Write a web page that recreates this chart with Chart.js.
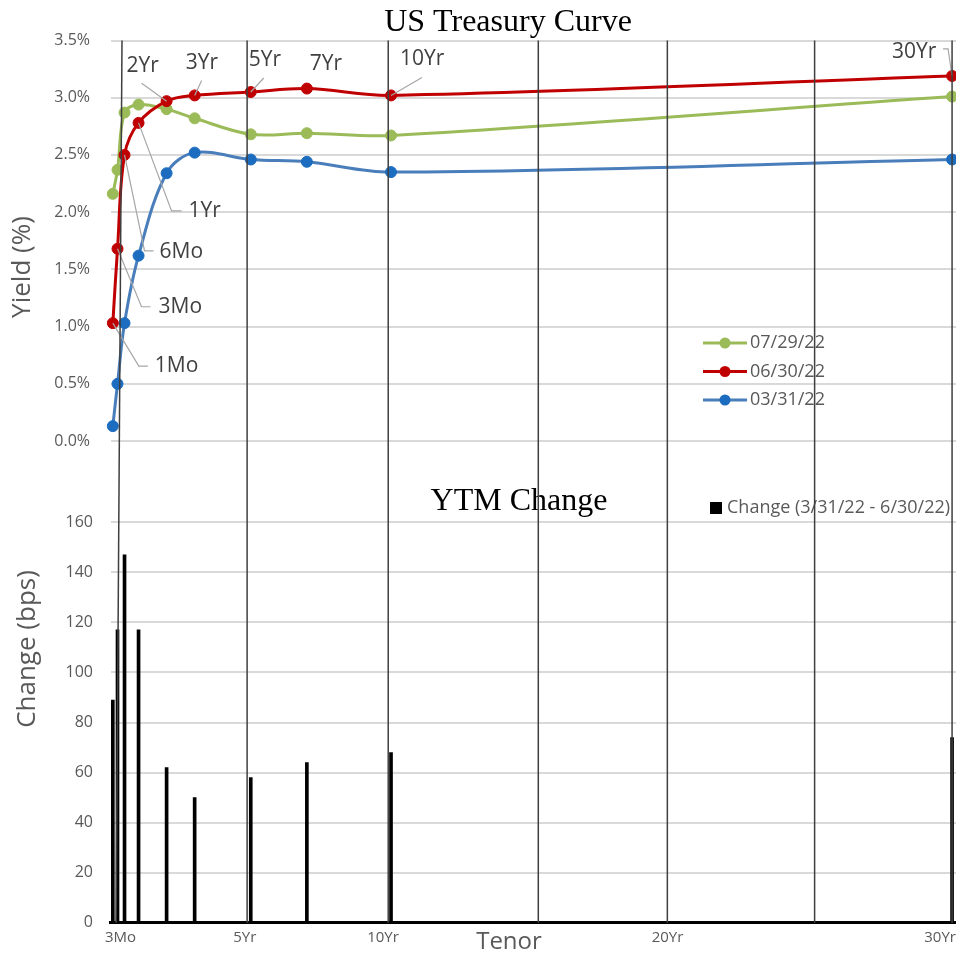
<!DOCTYPE html>
<html>
<head>
<meta charset="utf-8">
<title>US Treasury Curve</title>
<script src="https://cdn.jsdelivr.net/npm/chart.js@4.4.1/dist/chart.umd.min.js"></script>
<style>
  html, body { margin: 0; padding: 0; background: #ffffff; }
  #wrap { position: relative; width: 956px; height: 956px; overflow: hidden; background: #ffffff; }
  #curve { position: absolute; left: 0; top: 0; }
  #change { position: absolute; left: 0; top: 480px; }
  #guides { position: absolute; left: 0; top: 0; pointer-events: none; }
</style>
</head>
<body>
<div id="wrap">
  <canvas id="curve" width="956" height="480"></canvas>
  <canvas id="change" width="956" height="476"></canvas>
  <canvas id="guides" width="956" height="956"></canvas>
</div>
<script>
// Tenors (in years) and their names
const tenorNames = ['1Mo', '3Mo', '6Mo', '1Yr', '2Yr', '3Yr', '5Yr', '7Yr', '10Yr', '30Yr'];
const tenorYears = [0.083, 0.25, 0.5, 1, 2, 3, 5, 7, 10, 30];

// Yields (%) per curve date
const curveDates = ['07/29/22', '06/30/22', '03/31/22'];
const yields0729 = [2.16, 2.37, 2.87, 2.94, 2.90, 2.82, 2.68, 2.69, 2.67, 3.01];
const yields0630 = [1.03, 1.68, 2.50, 2.78, 2.97, 3.02, 3.05, 3.08, 3.02, 3.19];
const yields0331 = [0.13, 0.50, 1.03, 1.62, 2.34, 2.52, 2.46, 2.44, 2.35, 2.46];

// Change in yield, 3/31/22 -> 6/30/22, in basis points
const changeLabel = 'Change (3/31/22 - 6/30/22)';
const changeBps = [89, 117, 147, 117, 62, 50, 58, 64, 68, 74];

// Tick marks
const yieldTicks = [0, 0.5, 1, 1.5, 2, 2.5, 3, 3.5];
const changeTicks = [0, 20, 40, 60, 80, 100, 120, 140, 160];
const tenorTickValues = [0.25, 5, 10, 20, 30];
const tenorTickNames = ['3Mo', '5Yr', '10Yr', '20Yr', '30Yr'];

// Vertical tenor guides: [years at top, years at baseline]
const guideTenors = [[0.41, 0.2], [4.87, 4.87], [9.9, 9.9], [15.25, 15.25], [19.85, 19.85], [25.1, 25.1], [30, 30]];

const SANS = '"Open Sans", "Noto Sans", sans-serif';
const SERIF = '"Liberation Serif", "DejaVu Serif", serif';
const AXIS_GREY = '#595959';
const X_MAX = 30.14;

const toPoints = arr => tenorYears.map((x, i) => ({ x: x, y: arr[i] }));
const noSidePadding = s => { s.paddingLeft = 0; s.paddingRight = 0; };

// Free text drawn on a chart canvas
const textPlugin = {
  id: 'texts',
  afterDraw(chart, args, opts) {
    const ctx = chart.ctx;
    (opts.items || []).forEach(t => {
      ctx.save();
      ctx.font = t.font;
      ctx.fillStyle = t.color || AXIS_GREY;
      ctx.textAlign = t.align || 'center';
      ctx.textBaseline = t.baseline || 'middle';
      ctx.translate(t.x, t.y);
      if (t.rotate) ctx.rotate(t.rotate);
      ctx.fillText(t.text, 0, 0);
      ctx.restore();
    });
  }
};

// Tenor tick labels under the change axis, each nudged by its own offset
const tenorTickPlugin = {
  id: 'tenorTicks',
  afterDraw(chart, args, opts) {
    const xs = chart.scales.x;
    const ctx = chart.ctx;
    ctx.save();
    ctx.font = '15px ' + SANS;
    ctx.fillStyle = AXIS_GREY;
    ctx.textAlign = 'center';
    ctx.textBaseline = 'middle';
    tenorTickValues.forEach((v, i) => {
      ctx.fillText(tenorTickNames[i], xs.getPixelForValue(v) + opts.nudge[i], xs.top + opts.gap);
    });
    ctx.restore();
  }
};

// Tenor names beside the 06/30/22 points with leader lines
const tenorLabelPlugin = {
  id: 'tenorLabels',
  afterDatasetsDraw(chart, args, opts) {
    const meta = chart.getDatasetMeta(opts.datasetIndex);
    const ctx = chart.ctx;
    ctx.save();
    opts.layout.forEach((l, i) => {
      const p = meta.data[i];
      if (l.leader && l.leader.length) {
        ctx.beginPath();
        ctx.moveTo(p.x, p.y);
        l.leader.forEach(q => ctx.lineTo(p.x + q[0], p.y + q[1]));
        ctx.strokeStyle = '#a6a6a6';
        ctx.lineWidth = 1.2;
        ctx.stroke();
      }
    });
    ctx.font = '21px ' + SANS;
    ctx.fillStyle = '#404040';
    ctx.textAlign = 'left';
    ctx.textBaseline = 'middle';
    opts.layout.forEach((l, i) => {
      const p = meta.data[i];
      ctx.fillText(tenorNames[i], p.x + l.dx, p.y + l.dy);
    });
    ctx.restore();
  }
};

// In-plot legend for the yield curves
const curveLegendPlugin = {
  id: 'curveLegend',
  afterDraw(chart, args, opts) {
    const ctx = chart.ctx;
    ctx.save();
    chart.data.datasets.forEach((ds, k) => {
      const y = opts.y + k * opts.step;
      ctx.beginPath();
      ctx.moveTo(opts.x, y);
      ctx.lineTo(opts.x + 44, y);
      ctx.strokeStyle = ds.borderColor;
      ctx.lineWidth = 3;
      ctx.stroke();
      ctx.beginPath();
      ctx.arc(opts.x + 22, y, 5.5, 0, Math.PI * 2);
      ctx.fillStyle = ds.pointBackgroundColor;
      ctx.fill();
      ctx.font = '18px ' + SANS;
      ctx.fillStyle = AXIS_GREY;
      ctx.textAlign = 'left';
      ctx.textBaseline = 'middle';
      ctx.fillText(ds.label, opts.x + 47, y);
    });
    ctx.restore();
  }
};

// Legend for the change bars
const changeLegendPlugin = {
  id: 'changeLegend',
  afterDraw(chart, args, opts) {
    const ctx = chart.ctx;
    const ds = chart.data.datasets[0];
    ctx.save();
    ctx.fillStyle = ds.backgroundColor;
    ctx.fillRect(opts.x, opts.y - 6, 12, 12);
    ctx.font = '18px ' + SANS;
    ctx.fillStyle = AXIS_GREY;
    ctx.textAlign = 'left';
    ctx.textBaseline = 'middle';
    ctx.fillText(ds.label, opts.x + 17, opts.y);
    ctx.restore();
  }
};

const curveChart = new Chart(document.getElementById('curve'), {
  type: 'line',
  data: {
    datasets: [
      { label: curveDates[0], data: toPoints(yields0729), borderColor: '#9bbb59',
        pointBackgroundColor: '#9bbb59', pointBorderColor: '#9bbb59', order: 1 },
      { label: curveDates[1], data: toPoints(yields0630), borderColor: '#c00000',
        pointBackgroundColor: '#c00000', pointBorderColor: '#c00000', order: 0 },
      { label: curveDates[2], data: toPoints(yields0331), borderColor: '#4a7ebb',
        pointBackgroundColor: '#1c6cc0', pointBorderColor: '#1c6cc0', order: 2 }
    ]
  },
  options: {
    responsive: false,
    animation: false,
    events: [],
    layout: { autoPadding: false, padding: { top: 40.5, bottom: 39, left: 0, right: 0 } },
    datasets: { line: { clip: false } },
    elements: {
      line: { borderWidth: 3, tension: 0.35, fill: false },
      point: { radius: 5.5, borderWidth: 1, hoverRadius: 5.5 }
    },
    scales: {
      x: { type: 'linear', min: 0, max: X_MAX, display: false },
      y: {
        min: 0, max: 3.5,
        afterBuildTicks: s => { s.ticks = yieldTicks.map(v => ({ value: v })); },
        afterFit: s => { s.width = 110.5; },
        ticks: { padding: 20.5, color: AXIS_GREY, font: { family: SANS, size: 16 },
                 callback: v => v.toFixed(1) + '%' },
        grid: { color: '#d9d9d9', lineWidth: 2, drawTicks: false },
        border: { display: false }
      }
    },
    plugins: {
      legend: { display: false },
      tooltip: { enabled: false },
      tenorLabels: {
        datasetIndex: 1,
        layout: [
          { dx: 42, dy: 43, leader: [[26, 43], [35, 43]] },
          { dx: 41, dy: 58, leader: [[24, 58], [33, 58]] },
          { dx: 35, dy: 97, leader: [[20, 96], [29, 96]] },
          { dx: 50, dy: 88, leader: [[33, 88], [43, 88]] },
          { dx: -40, dy: -35, leader: [[-25, -18]] },
          { dx: -9, dy: -32, leader: [[7, -15]] },
          { dx: -2, dy: -32, leader: [[13, -14]] },
          { dx: 3, dy: -25, leader: [] },
          { dx: 9, dy: -36, leader: [[31, -18]] },
          { dx: -60, dy: -24, leader: [[-4, -27], [-9, -27]] }
        ]
      },
      curveLegend: { x: 703, y: 343, step: 28.5 },
      texts: {
        items: [
          { text: 'US Treasury Curve', x: 508, y: 31, font: '32px ' + SERIF, color: '#000000', baseline: 'alphabetic' },
          { text: 'Yield (%)', x: 23, y: 267, font: '26px ' + SANS, rotate: -Math.PI / 2 }
        ]
      }
    }
  },
  plugins: [tenorLabelPlugin, curveLegendPlugin, textPlugin]
});

const changeChart = new Chart(document.getElementById('change'), {
  type: 'bar',
  data: {
    datasets: [{
      label: changeLabel,
      data: toPoints(changeBps),
      backgroundColor: '#000000',
      borderWidth: 0,
      barThickness: 3
    }]
  },
  options: {
    responsive: false,
    animation: false,
    events: [],
    layout: { autoPadding: false, padding: { top: 42.3, bottom: 0, left: 0, right: 0 } },
    scales: {
      x: {
        type: 'linear', min: 0, max: X_MAX, offset: false,
        afterBuildTicks: s => { s.ticks = tenorTickValues.map(v => ({ value: v })); },
        afterFit: s => { s.height = 33.3; noSidePadding(s); },
        ticks: { display: false },
        grid: { display: false, drawTicks: false },
        border: { display: true, color: '#000000', width: 3 }
      },
      y: {
        min: 0, max: 160,
        afterBuildTicks: s => { s.ticks = changeTicks.map(v => ({ value: v })); },
        afterFit: s => { s.width = 110.5; },
        ticks: { padding: 17.5, color: AXIS_GREY, font: { family: SANS, size: 16 } },
        grid: { color: '#d9d9d9', lineWidth: 2, drawTicks: false },
        border: { display: false }
      }
    },
    plugins: {
      legend: { display: false },
      tooltip: { enabled: false },
      changeLegend: { x: 710, y: 28 },
      tenorTicks: { nudge: [3, -6, -8, -4, -12], gap: 15.5 },
      texts: {
        items: [
          { text: 'YTM Change', x: 519, y: 30, font: '32px ' + SERIF, color: '#000000', baseline: 'alphabetic' },
          { text: 'Change (bps)', x: 28, y: 169, font: '26px ' + SANS, rotate: -Math.PI / 2 },
          { text: 'Tenor', x: 509, y: 462, font: '24px ' + SANS }
        ]
      }
    }
  },
  plugins: [changeLegendPlugin, tenorTickPlugin, textPlugin]
});

// Tenor guide lines running through both panels
(function drawGuides() {
  const ctx = document.getElementById('guides').getContext('2d');
  const xs = curveChart.scales.x;
  const top = curveChart.scales.y.top;
  const bottom = 480 + changeChart.scales.y.bottom;
  ctx.strokeStyle = '#3f3f3f';
  ctx.lineWidth = 1.5;
  guideTenors.forEach(g => {
    ctx.beginPath();
    ctx.moveTo(xs.getPixelForValue(g[0]), top);
    ctx.lineTo(xs.getPixelForValue(g[1]), bottom);
    ctx.stroke();
  });
})();
</script>
</body>
</html>
